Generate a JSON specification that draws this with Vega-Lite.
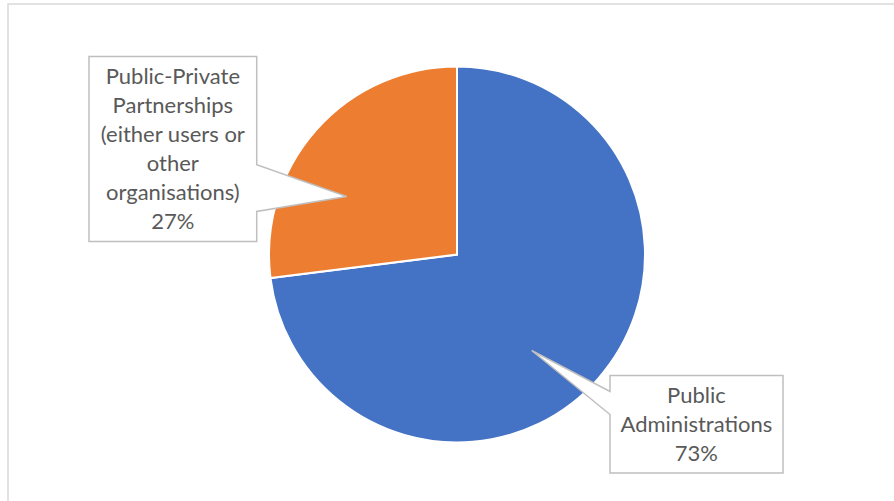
{
  "$schema": "https://vega.github.io/schema/vega-lite/v6.json",
  "autosize": {"type": "fit", "contains": "padding"},
  "width": 894,
  "height": 501,
  "padding": {"left": 8, "top": 4, "right": -12, "bottom": -4},
  "background": "white",
  "view": {"stroke": "#d9d9d9", "strokeWidth": 1.5},
  "data": {
    "values": [
      {"category": "Public Administrations", "value": 73, "label": "Public\nAdministrations\n73%"},
      {"category": "Public-Private Partnerships (either users or other organisations)", "value": 27, "label": "Public-Private\nPartnerships\n(either users or\nother\norganisations)\n27%"}
    ]
  },
  "encoding": {
    "theta": {"field": "value", "type": "quantitative", "stack": true},
    "order": {"field": "value", "type": "quantitative", "sort": "descending"}
  },
  "layer": [
    {
      "mark": {"type": "arc", "outerRadius": 188, "stroke": "white", "strokeWidth": 2},
      "encoding": {
        "color": {
          "field": "category",
          "type": "nominal",
          "scale": {"domain": ["Public Administrations", "Public-Private Partnerships (either users or other organisations)"], "range": ["#4472C4", "#ED7D31"]},
          "legend": null
        }
      }
    },
    {
      "mark": {"type": "point", "filled": true, "fill": "white", "stroke": "#bfbfbf", "strokeWidth": 1.5, "opacity": 1, "size": 40000},
      "encoding": {
        "theta": null,
        "order": null,
        "detail": {"field": "category", "type": "nominal"},
        "shape": {
          "field": "category",
          "type": "nominal",
          "scale": {
            "domain": ["Public Administrations", "Public-Private Partnerships (either users or other organisations)"],
            "range": [
              "M 1.53 1.21 L 3.26 1.21 L 3.26 2.185 L 1.53 2.185 L 1.53 1.60 L 0.747 0.96 L 1.53 1.37 Z",
              "M -3.68 -1.98 L -2.003 -1.98 L -2.003 -0.897 L -1.103 -0.58 L -2.003 -0.43 L -2.003 -0.13 L -3.68 -0.13 Z"
            ]
          },
          "legend": null
        }
      }
    },
    {
      "mark": {"type": "text", "radius": 277.9, "thetaOffset": -0.19, "font": "Lato", "fontSize": 22, "lineHeight": 29, "lineBreak": "\n", "color": "#595959", "align": "center", "baseline": "middle"},
      "encoding": {
        "detail": {"field": "category", "type": "nominal"},
        "text": {"field": "label", "type": "nominal"},
        "opacity": {"condition": {"test": "datum.category === 'Public Administrations'", "value": 1}, "value": 0}
      }
    },
    {
      "mark": {"type": "text", "radius": 335.3, "thetaOffset": -0.163, "font": "Lato", "fontSize": 22, "lineHeight": 29, "lineBreak": "\n", "color": "#595959", "align": "center", "baseline": "middle"},
      "encoding": {
        "detail": {"field": "category", "type": "nominal"},
        "text": {"field": "label", "type": "nominal"},
        "opacity": {"condition": {"test": "datum.category !== 'Public Administrations'", "value": 1}, "value": 0}
      }
    }
  ]
}
